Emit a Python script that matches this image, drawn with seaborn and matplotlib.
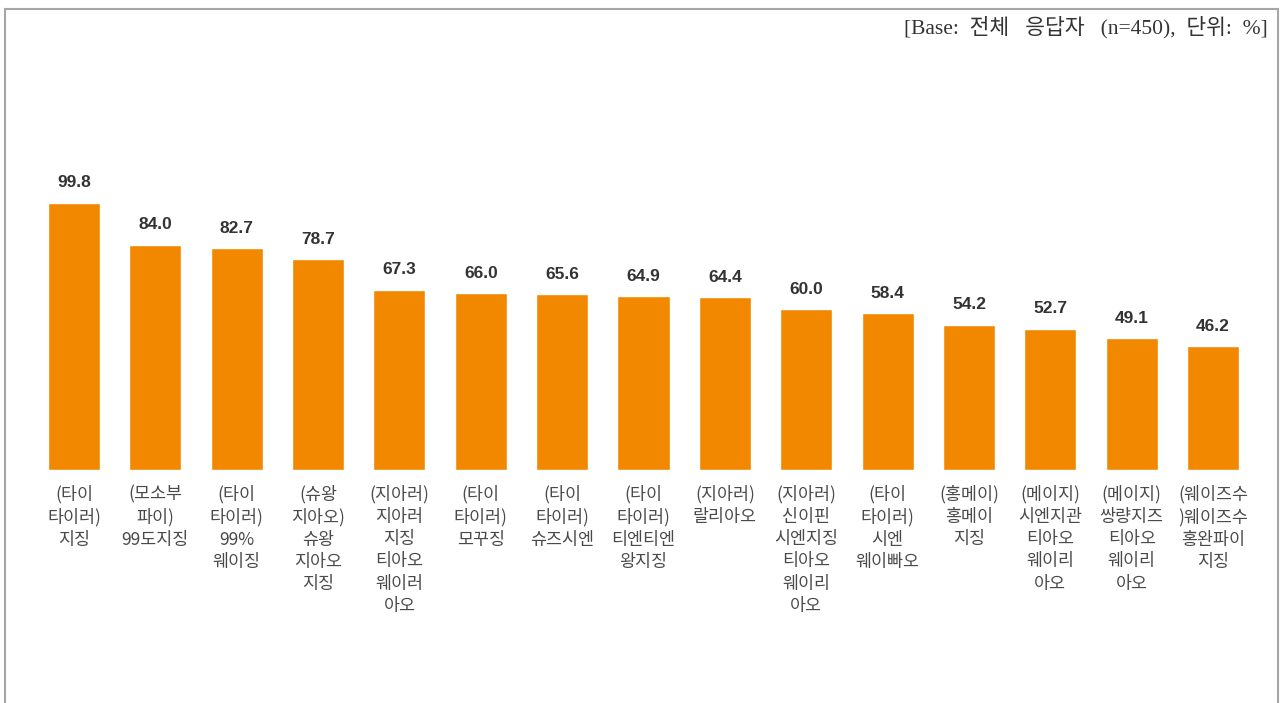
import matplotlib
matplotlib.use("Agg")
import matplotlib.pyplot as plt
import seaborn as sns
import pandas as pd
from matplotlib.patches import Rectangle

# Brands (wrapped as printed under each bar) and share of respondents, %
categories = [
    "(타이\n타이러)\n지징",
    "(모소부\n파이)\n99도지징",
    "(타이\n타이러)\n99%\n웨이징",
    "(슈왕\n지아오)\n슈왕\n지아오\n지징",
    "(지아러)\n지아러\n지징\n티아오\n웨이러\n아오",
    "(타이\n타이러)\n모꾸징",
    "(타이\n타이러)\n슈즈시엔",
    "(타이\n타이러)\n티엔티엔\n왕지징",
    "(지아러)\n랄리아오",
    "(지아러)\n신이핀\n시엔지징\n티아오\n웨이리\n아오",
    "(타이\n타이러)\n시엔\n웨이빠오",
    "(홍메이)\n홍메이\n지징",
    "(메이지)\n시엔지관\n티아오\n웨이리\n아오",
    "(메이지)\n쌍량지즈\n티아오\n웨이리\n아오",
    "(웨이즈수\n)웨이즈수\n홍완파이\n지징",
]
values = [99.8, 84.0, 82.7, 78.7, 67.3, 66.0, 65.6, 64.9, 64.4, 60.0, 58.4, 54.2, 52.7, 49.1, 46.2]
note = "[Base:  전체   응답자   (n=450),  단위:  %]"

sns.set_theme(style="white")
plt.rcParams["font.family"] = ["Noto Sans CJK KR", "DejaVu Sans"]

W, H = 1283, 703
fig = plt.figure(figsize=(W / 100, H / 100), dpi=100)
fig.patch.set_facecolor("white")

# Outer frame
fig.patches.append(Rectangle((5 / W, -0.05), (1278 - 5) / W, 1.05 - 9 / H,
                             transform=fig.transFigure, fill=False,
                             edgecolor="#a6a6a6", linewidth=1.5))

ax_left, ax_right = 33.3, 1253.7
ax_top, ax_bottom = 150, 470
ax = fig.add_axes([ax_left / W, 1 - ax_bottom / H,
                   (ax_right - ax_left) / W, (ax_bottom - ax_top) / H])

df = pd.DataFrame({"brand": categories, "pct": values})
sns.barplot(data=df, x="brand", y="pct", color="#F18800", saturation=1,
            width=0.64, ax=ax)

ax.set_xlim(-0.5, len(categories) - 0.5)
ax.set_ylim(0, 119.4)
ax.set_xlabel("")
ax.set_ylabel("")
ax.set_yticks([])
ax.set_xticks([])
for s in ax.spines.values():
    s.set_visible(False)
ax.patch.set_alpha(0)

for i, (cat, v) in enumerate(zip(categories, values)):
    ax.annotate(f"{v:.1f}", (i, v), xytext=(0, 9), textcoords="offset points",
                ha="center", va="bottom", fontsize=12.5, fontweight="bold",
                color="#333333", family=["Liberation Sans", "DejaVu Sans"])
    ax.annotate(cat, (i, 0), xytext=(0, -11), textcoords="offset points",
                ha="center", va="top", fontsize=12.5, color="#4a4a4a",
                linespacing=1.3)

fig.text(1268 / W, 1 - 27 / H, note, ha="right", va="center",
         fontsize=15.5, color="#333333",
         family=["Liberation Serif", "Noto Sans CJK KR"])

fig.savefig("out.png", dpi=100, facecolor="white")
